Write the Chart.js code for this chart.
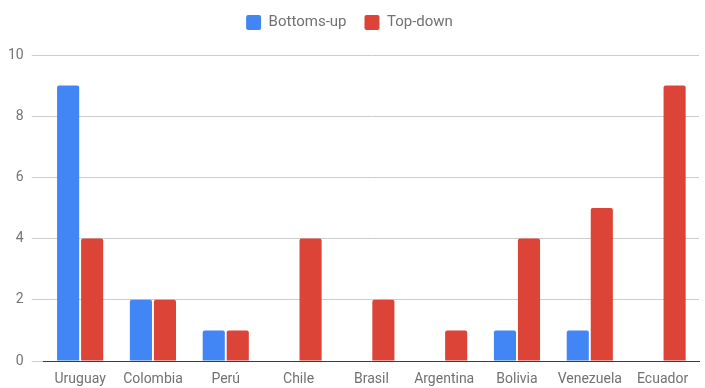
<!DOCTYPE html>
<html>
<head>
<meta charset="utf-8">
<script src="https://cdn.jsdelivr.net/npm/chart.js@4"></script>
<style>
  html, body { margin: 0; padding: 0; background: #fff; }
  #wrap { width: 705px; height: 388px; }
</style>
</head>
<body>
<div id="wrap"><canvas id="grafico"></canvas></div>
<script>
const paises = ["Uruguay", "Colombia", "Perú", "Chile", "Brasil", "Argentina", "Bolivia", "Venezuela", "Ecuador"];
const bottomsUp = [9, 2, 1, 0, 0, 0, 1, 1, 0];
const topDown = [4, 2, 1, 4, 2, 1, 4, 5, 9];
const ticksY = [0, 2, 4, 6, 8, 10];

Chart.defaults.font.family = "Roboto";
Chart.defaults.font.size = 14;
Chart.defaults.color = "#717171";

// hueco extra debajo de la leyenda
const huecoLeyenda = {
    id: 'huecoLeyenda',
    beforeInit(chart) {
        const fitOriginal = chart.legend.fit;
        chart.legend.fit = function () {
            fitOriginal.bind(chart.legend)();
            this.height += 15;
        };
    }
};

const ctx = document.getElementById('grafico').getContext('2d');
const chart = new Chart(ctx, {
    type: 'bar',
    data: {
        labels: paises,
        datasets: [{
            label: "Bottoms-up",
            backgroundColor: '#4285F4',
            data: bottomsUp,
            borderRadius: 2,
            categoryPercentage: 0.66,
            barPercentage: 0.92
        },
        {
            label: "Top-down",
            backgroundColor: '#DB4437',
            data: topDown,
            borderRadius: 2,
            categoryPercentage: 0.66,
            barPercentage: 0.92
        }]
    },
    plugins: [huecoLeyenda],
    options: {
        responsive: true,
        maintainAspectRatio: false,
        animation: false,
        layout: { padding: { top: -3, right: 6, left: 0, bottom: 0 } },
        plugins: {
            legend: {
                position: 'top',
                labels: {
                    boxWidth: 15,
                    boxHeight: 15,
                    useBorderRadius: true,
                    borderRadius: 2,
                    padding: 18,
                    color: '#717171',
                    font: { size: 15 }
                }
            },
            tooltip: { enabled: false }
        },
        scales: {
            x: {
                grid: { display: false, drawTicks: false },
                border: { display: true, color: '#3c3c3c', width: 1 },
                ticks: { color: '#717171', padding: 10, maxRotation: 0, autoSkip: false },
                afterFit: axis => { axis.height = 27; }
            },
            y: {
                min: 0,
                max: 10,
                afterBuildTicks: axis => { axis.ticks = ticksY.map(v => ({ value: v })); },
                grid: { color: '#cccccc', tickLength: 12, drawTicks: true },
                border: { display: false },
                ticks: { color: '#757575', padding: 8 }
            }
        }
    }
});
</script>
</body>
</html>
